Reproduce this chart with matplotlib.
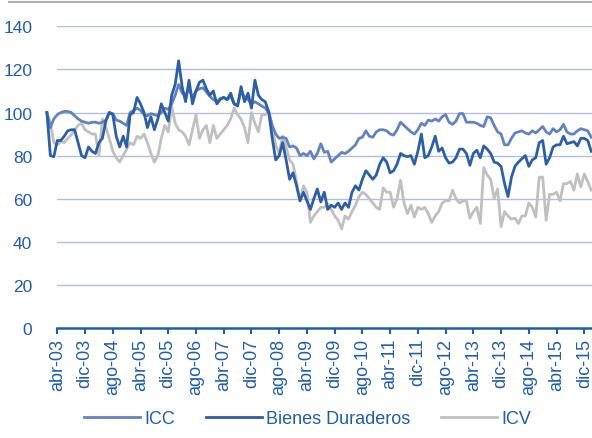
import matplotlib
matplotlib.use("Agg")
import matplotlib.pyplot as plt
from matplotlib.lines import Line2D

plt.rcParams['font.family'] = ['Liberation Sans', 'DejaVu Sans']

# Monthly series, ene-03 .. feb-16
icc = [100, 93, 97, 99, 100, 100.5, 100.5, 100, 98.5, 97,
       96, 95.5, 95, 95.5, 95.5, 95, 95.5, 96.5, 100, 99.5,
       96.5, 96, 95, 94, 100, 101, 102, 101, 99, 98.5,
       99.5, 99, 98.5, 100, 102, 101.5, 104, 108, 113, 109,
       108, 111, 107, 110, 111, 111.5, 109.5, 107.5, 106, 105,
       106.5, 107, 106, 107.5, 104, 103.5, 110, 107, 106, 104,
       105, 104, 103, 102, 100, 94, 90, 88, 88.5, 88,
       84, 84.5, 83.5, 80, 81, 80, 82, 78.5, 81, 85.5,
       81.5, 82, 77, 78.5, 80, 81.5, 81, 82, 83.5, 85,
       88, 88.5, 91.5, 89, 88.5, 91, 92, 92, 91.5, 90,
       89.5, 92, 95.5, 94, 92.5, 91, 90, 92, 95, 94,
       96.5, 96, 97, 96, 98, 99, 95.5, 94.5, 96, 99.5,
       99.5, 95.5, 95.5, 95.5, 95, 94, 93.5, 98, 97.5, 94,
       91, 90, 85, 85, 88, 90.5, 91, 91.5, 90.5, 90,
       91.5, 90.5, 92, 93.5, 91, 90, 92.5, 91, 92, 94.5,
       91, 90, 90, 91.5, 92.5, 92, 91.5, 88.5]

bienes = [100, 80, 79.5, 87, 87, 89, 91.5, 92, 92, 86,
          80, 79, 84, 82, 81, 86, 88, 96, 100, 99,
          89, 84, 89, 84, 99, 100, 107, 104, 100, 93,
          98, 92, 97, 104, 100, 96, 108, 113, 124, 112,
          105, 115, 104, 110, 114, 115, 111, 108, 110, 104,
          106, 107, 106, 109, 104, 103, 112, 105, 109, 102,
          115, 108, 106, 105, 100, 88, 78, 80, 86, 78,
          69, 72, 66, 59, 63, 59, 55, 60, 64.5, 58.5,
          63, 55, 57, 56, 58, 55, 58, 56, 63, 66,
          64, 69, 73, 71, 69, 71, 76, 79, 77, 72,
          73, 76, 81, 80, 79.5, 80, 76, 82, 90, 79,
          80, 84, 89, 82, 83.5, 79, 76.5, 77, 79, 83,
          83, 81, 75.5, 81, 82.5, 79, 84.5, 83, 81, 77,
          76.5, 75, 67, 61, 70, 75, 77, 78.5, 80, 75,
          78, 79, 86, 87, 76, 79, 84, 85, 85, 89,
          85.5, 86, 86.5, 84.5, 88, 88, 87, 82]

icv = [100, 95, 86, 85, 86.5, 86, 88, 89.5, 92, 94,
       95, 92, 91, 90, 90, 80, 97, 93, 88, 82,
       79, 77, 80, 83, 86, 85, 89, 88, 90, 86,
       81, 77, 80, 88, 94, 91, 103, 95, 92, 91,
       89, 85, 92, 99, 88, 92, 94, 86, 94, 88,
       90, 92, 94, 97, 102, 99, 97, 93, 86, 100,
       95, 91, 99, 99, 101, 93, 85, 81, 89, 84,
       78, 76, 68, 59, 66, 63, 49, 52, 54, 56,
       56, 57.5, 55, 52, 50, 46, 52, 50.5, 54, 57,
       61, 63, 62, 60, 58, 56, 55, 65, 63, 63,
       56, 60, 68.5, 58, 53, 57, 51.5, 56, 55, 56,
       53, 49, 52, 54, 58, 59, 59, 64, 60, 58,
       59, 59, 51, 54, 56, 48.5, 74.5, 71, 69, 60,
       64.5, 47, 54, 52, 50.5, 51, 48.5, 52, 52, 58,
       56, 51.5, 70, 70, 50, 62, 62, 63, 59, 67,
       67, 68, 64, 71.5, 65.5, 71.5, 68, 64]

tick_labels = ['abr-03', 'dic-03', 'ago-04', 'abr-05', 'dic-05', 'ago-06',
               'abr-07', 'dic-07', 'ago-08', 'abr-09', 'dic-09', 'ago-10',
               'abr-11', 'dic-11', 'ago-12', 'abr-13', 'dic-13', 'ago-14',
               'abr-15', 'dic-15']
y_ticks = [0, 20, 40, 60, 80, 100, 120, 140]

months = list(range(len(icc)))
first_tick = 3  # abr-03 index when ene-03 = 0
tick_pos = [first_tick + 8 * k for k in range(len(tick_labels))]

W, H = 592, 439
fig = plt.figure(figsize=(W / 100, H / 100), dpi=100)
ax = fig.add_axes([57.3 / W, 1 - 329 / H, 1 - 57.3 / W, (329 - 27.3) / H])

text_col = '#1f5ea8'
c_icc = '#6283c3'
c_bd = '#2c5fa6'
c_icv = '#c0c0c0'
grid_col = '#b3bde0'

l_icv, = ax.plot(months, icv, color=c_icv, lw=2.0, clip_on=False, zorder=3)
l_icc, = ax.plot(months, icc, color=c_icc, lw=2.0, clip_on=False, zorder=4)
l_bd, = ax.plot(months, bienes, color=c_bd, lw=2.0, clip_on=False, zorder=5)

ax.set_xlim(first_tick, (W - 46.9) / 3.467)
ax.set_ylim(0, 140)
ax.set_yticks(y_ticks)
ax.set_yticklabels([str(v) for v in y_ticks])
ax.set_xticks(tick_pos)
ax.set_xticklabels(tick_labels, rotation=90)

for v in y_ticks[1:]:
    ax.axhline(v, color=grid_col, lw=1.0, zorder=1)

for s in ['top', 'right', 'left']:
    ax.spines[s].set_visible(False)
ax.spines['bottom'].set_color(text_col)
ax.spines['bottom'].set_linewidth(1.8)
ax.spines['bottom'].set_zorder(6)

ax.tick_params(axis='y', length=0, pad=18, labelsize=12.5, labelcolor=text_col)
ax.tick_params(axis='x', length=4, width=1.5, color=text_col, pad=3,
               labelsize=13, labelcolor=text_col)

# thin grey frame line at top
fig.add_artist(Line2D([9 / W, 1.0], [1 - 3.3 / H, 1 - 3.3 / H],
                      color='#b0b0b0', lw=1.5, transform=fig.transFigure))

leg = fig.legend([l_icc, l_bd, l_icv], ['ICC', 'Bienes Duraderos', 'ICV'],
                 loc='center', bbox_to_anchor=(307.5 / W, 1 - 420 / H),
                 ncol=3, frameon=False, fontsize=13, handlelength=3.1,
                 handletextpad=0.25, columnspacing=1.7, borderpad=0,
                 borderaxespad=0)
for t in leg.get_texts():
    t.set_color(text_col)

fig.savefig('out.png', dpi=100)
